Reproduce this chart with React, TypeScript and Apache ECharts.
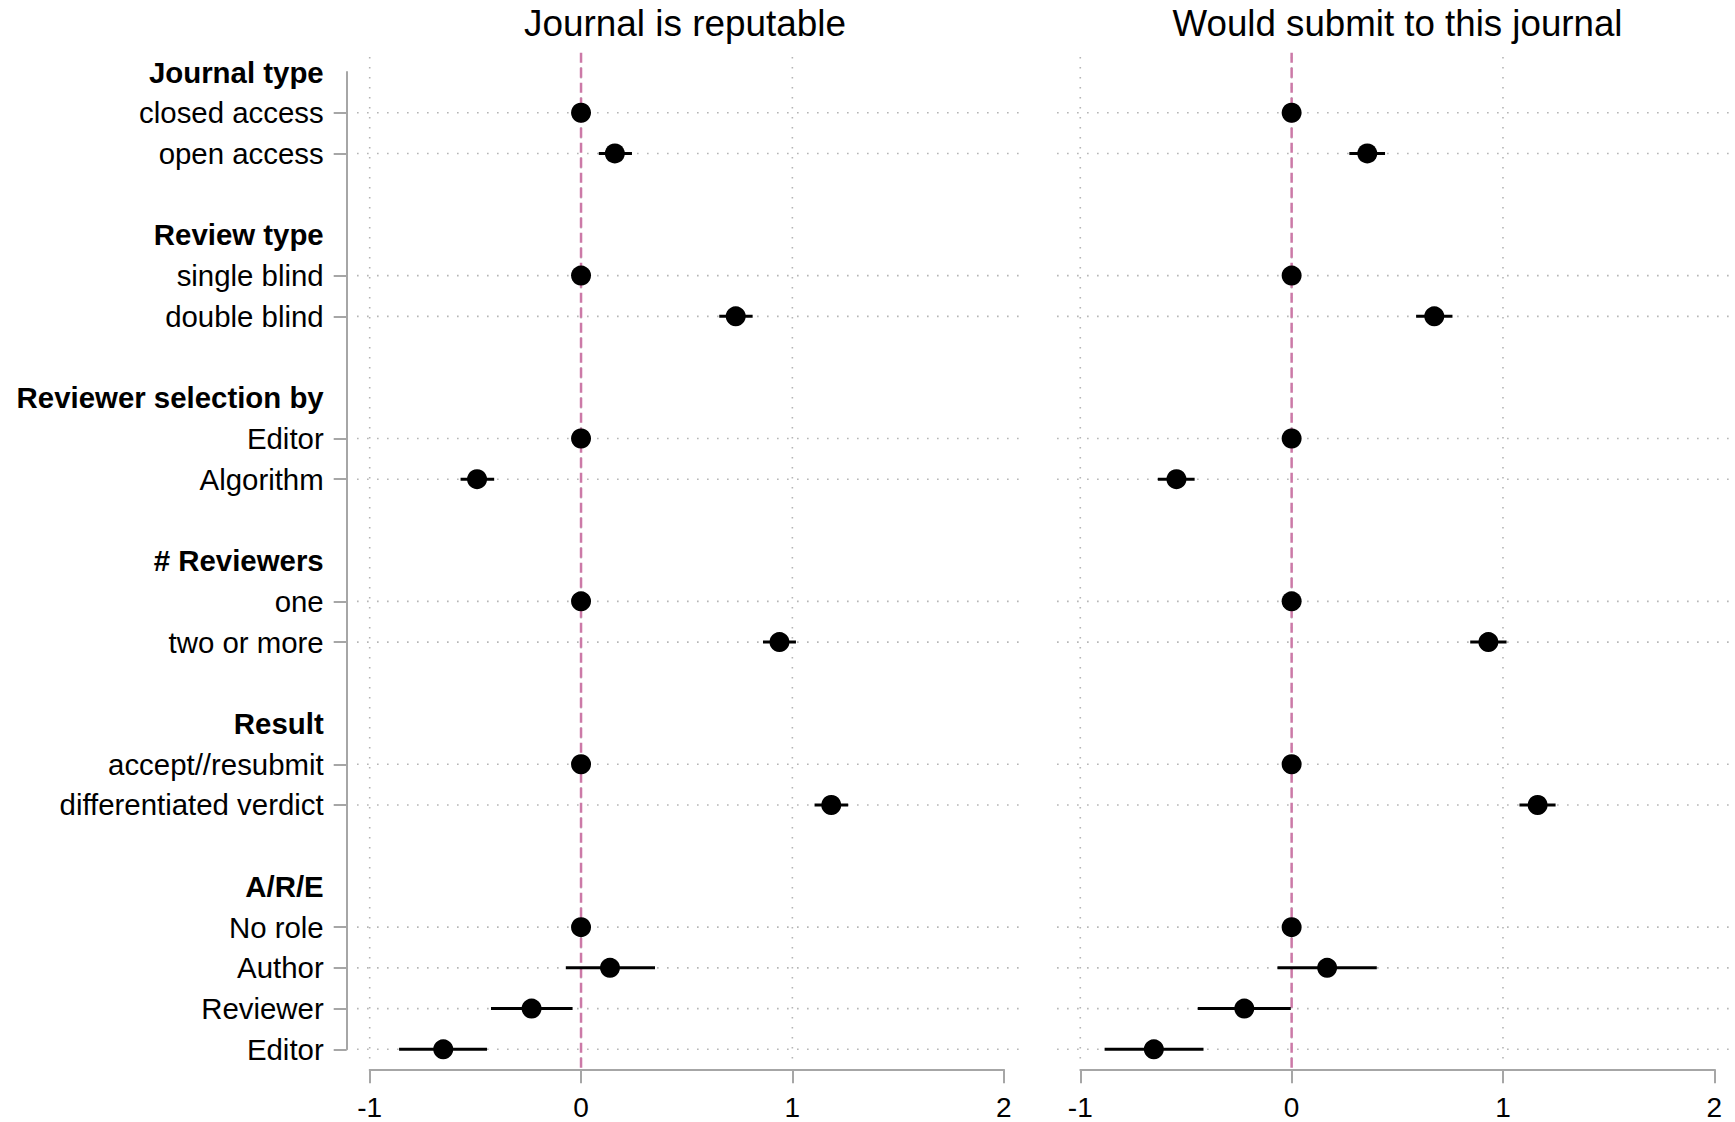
import React, { useEffect, useRef } from "react";
import * as echarts from "echarts";

const FONT = '"Liberation Sans", Arial, Helvetica, sans-serif';

// Row labels (top to bottom); "" = spacer row
const rowLabels = [
  "Journal type", "closed access", "open access", "",
  "Review type", "single blind", "double blind", "",
  "Reviewer selection by", "Editor", "Algorithm", "",
  "# Reviewers", "one", "two or more", "",
  "Result", "accept//resubmit", "differentiated verdict", "",
  "A/R/E", "No role", "Author", "Reviewer", "Editor",
];
const headerRows = [0, 4, 8, 12, 16, 20];

const panelTitles = ["Journal is reputable", "Would submit to this journal"];
const xTicks = [-1, 0, 1, 2];

// Panel 1: Journal is reputable (null = no estimate in that row)
const estReputable = [null, 0, 0.16, null, null, 0, 0.732, null, null, 0, -0.492, null, null, 0, 0.939, null, null, 0, 1.184, null, null, 0, 0.137, -0.234, -0.652];
const loReputable = [null, null, 0.084, null, null, null, 0.654, null, null, null, -0.57, null, null, null, 0.861, null, null, null, 1.105, null, null, null, -0.072, -0.426, -0.861];
const hiReputable = [null, null, 0.241, null, null, null, 0.812, null, null, null, -0.411, null, null, null, 1.017, null, null, null, 1.264, null, null, null, 0.35, -0.04, -0.445];

// Panel 2: Would submit to this journal
const estSubmit = [null, 0, 0.358, null, null, 0, 0.675, null, null, 0, -0.545, null, null, 0, 0.931, null, null, 0, 1.164, null, null, 0, 0.168, -0.224, -0.652];
const loSubmit = [null, null, 0.273, null, null, null, 0.589, null, null, null, -0.633, null, null, null, 0.845, null, null, null, 1.078, null, null, null, -0.067, -0.444, -0.885];
const hiSubmit = [null, null, 0.442, null, null, null, 0.761, null, null, null, -0.459, null, null, null, 1.017, null, null, null, 1.249, null, null, null, 0.403, -0.004, -0.417];

const vGridValues = [-1, 0, 1];
const refValue = 0;

const AXIS_GRAY = "#a6a6a6";
const GRID_GRAY = "#b4b4b4";
const PINK = "#cc79a7";

function buildPanelSeries(i: number, est: (number | null)[], lo: (number | null)[], hi: (number | null)[], hStart: number, hEnd: number) {
  const itemRows = est.map((v, r) => (v === null ? -1 : r)).filter((r) => r >= 0);
  const rowFrac = (api: any, v: number, rowPos: number) => {
    const a = api.coord([v, 0]);
    const b = api.coord([v, rowLabels.length - 1]);
    const step = (b[1] - a[1]) / (rowLabels.length - 1);
    return [a[0], a[1] + step * rowPos];
  };
  return [
    {
      type: "custom",
      xAxisIndex: i,
      yAxisIndex: i,
      clip: false,
      silent: true,
      z: 1,
      data: itemRows.map((r) => [hStart, r, hEnd]),
      renderItem: (params: any, api: any) => {
        const p1 = api.coord([api.value(0), api.value(1)]);
        const p2 = api.coord([api.value(2), api.value(1)]);
        return {
          type: "line",
          shape: { x1: p1[0], y1: p1[1], x2: p2[0], y2: p2[1] },
          style: { stroke: GRID_GRAY, lineWidth: 1.6, lineDash: [1.6, 8.4] },
        };
      },
    },
    {
      type: "custom",
      xAxisIndex: i,
      yAxisIndex: i,
      clip: false,
      silent: true,
      z: 1,
      data: vGridValues.map((v) => [v, 0]),
      renderItem: (params: any, api: any) => {
        const v = api.value(0);
        const p1 = rowFrac(api, v, -0.37);
        const p2 = rowFrac(api, v, 24.26);
        return {
          type: "line",
          shape: { x1: p1[0], y1: p1[1], x2: p2[0], y2: p2[1] },
          style: { stroke: GRID_GRAY, lineWidth: 1.6, lineDash: [1.6, 8.4] },
        };
      },
    },
    {
      type: "custom",
      xAxisIndex: i,
      yAxisIndex: i,
      clip: false,
      silent: true,
      z: 2,
      data: [[refValue, 0]],
      renderItem: (params: any, api: any) => {
        const v = api.value(0);
        const p1 = rowFrac(api, v, -0.47);
        const p2 = rowFrac(api, v, 24.5);
        return {
          type: "line",
          shape: { x1: p1[0], y1: p1[1], x2: p2[0], y2: p2[1] },
          style: { stroke: PINK, lineWidth: 2.5, lineDash: [10, 5] },
        };
      },
    },
    {
      type: "custom",
      xAxisIndex: i,
      yAxisIndex: i,
      clip: false,
      silent: true,
      z: 3,
      data: itemRows.filter((r) => lo[r] !== null).map((r) => [lo[r], r, hi[r]]),
      renderItem: (params: any, api: any) => {
        const p1 = api.coord([api.value(0), api.value(1)]);
        const p2 = api.coord([api.value(2), api.value(1)]);
        return {
          type: "line",
          shape: { x1: p1[0], y1: p1[1], x2: p2[0], y2: p2[1] },
          style: { stroke: "#000", lineWidth: 3, lineCap: "butt" },
        };
      },
    },
    {
      type: "scatter",
      xAxisIndex: i,
      yAxisIndex: i,
      z: 4,
      symbol: "circle",
      symbolSize: 20,
      itemStyle: { color: "#000", opacity: 1 },
      data: itemRows.map((r) => [est[r], r]),
    },
  ];
}

export default function App() {
  const ref = useRef<HTMLDivElement>(null);
  useEffect(() => {
    if (!ref.current) return;
    const chart = echarts.init(ref.current, undefined, { renderer: "svg" });
    const gridLefts = [369.7, 1080.3];
    const gridTop = 72;
    const gridHeight = 977.3;
    const gridWidth = 634;

    const xAxes = gridLefts.map((_, i) => ({
      type: "value",
      gridIndex: i,
      min: xTicks[0],
      max: xTicks[xTicks.length - 1],
      interval: 1,
      position: "bottom",
      offset: 20,
      axisLine: { show: true, onZero: false, lineStyle: { color: AXIS_GRAY, width: 2 } },
      axisTick: { show: true, length: 14, lineStyle: { color: AXIS_GRAY, width: 2 } },
      axisLabel: { show: true, fontSize: 28, color: "#000", fontFamily: FONT, margin: 24 },
      splitLine: { show: false },
    }));

    const yAxes = gridLefts.map((_, i) => ({
      type: "category",
      gridIndex: i,
      data: rowLabels,
      inverse: true,
      boundaryGap: false,
      position: "left",
      show: i === 0,
      offset: 23,
      axisLine: { show: true, onZero: false, lineStyle: { color: AXIS_GRAY, width: 2 } },
      axisTick: {
        show: true,
        length: 13,
        interval: (idx: number) => rowLabels[idx] !== "" && headerRows.indexOf(idx) < 0,
        lineStyle: { color: AXIS_GRAY, width: 2 },
      },
      axisLabel: {
        show: true,
        interval: (idx: number) => rowLabels[idx] !== "",
        margin: 23,
        fontSize: 29.4,
        color: "#000",
        fontFamily: FONT,
        formatter: (value: string, idx: number) =>
          headerRows.indexOf(idx) >= 0 ? "{b|" + value + "}" : value,
        rich: {
          b: { fontSize: 29.4, fontWeight: "bold", color: "#000", fontFamily: FONT },
        },
      },
      splitLine: { show: false },
    }));

    chart.setOption({
      animation: false,
      backgroundColor: "#fff",
      textStyle: { fontFamily: FONT },
      grid: gridLefts.map((l) => ({
        left: l,
        top: gridTop,
        width: gridWidth,
        height: gridHeight,
        containLabel: false,
        outerBoundsMode: "none",
      })),
      xAxis: xAxes,
      yAxis: yAxes,
      graphic: [
        {
          type: "text",
          x: 685,
          y: 23,
          style: { text: panelTitles[0], fontSize: 36.9, fill: "#000", fontFamily: FONT, align: "center", verticalAlign: "middle" },
        },
        {
          type: "text",
          x: 1397.5,
          y: 23,
          style: { text: panelTitles[1], fontSize: 36.7, fill: "#000", fontFamily: FONT, align: "center", verticalAlign: "middle" },
        },
      ],
      series: [
        ...buildPanelSeries(0, estReputable, loReputable, hiReputable, -1.06, 2.1),
        ...buildPanelSeries(1, estSubmit, loSubmit, hiSubmit, -1.11, 2.1),
      ],
    });
    return () => chart.dispose();
  }, []);
  return (
    <div
      ref={ref}
      style={{ position: "fixed", left: 0, top: 0, width: 1735, height: 1122, background: "#fff" }}
    />
  );
}
